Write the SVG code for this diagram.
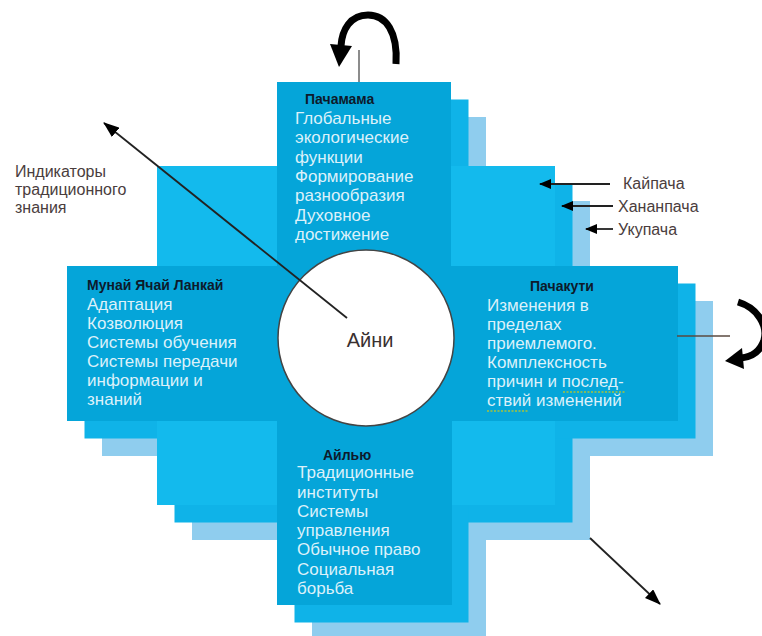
<svg xmlns="http://www.w3.org/2000/svg" width="762" height="636" viewBox="0 0 762 636">
<defs>
<style>
.lt{fill:#8fcdee}
.md{fill:#0fb3e8}
.br{fill:#13baed}
.fr{fill:#05a5d9}
.ttl{font-family:"Liberation Sans",Arial,sans-serif;font-weight:bold;font-size:14px;fill:#0d1a2b}
.bd{font-family:"Liberation Sans",Arial,sans-serif;font-size:17px;fill:#dcf1fa}
.lb{font-family:"Liberation Sans",Arial,sans-serif;font-size:16px;fill:#4a3d3d}
.ln{stroke:#222;stroke-width:1.8;fill:none}
.big{stroke:#000;stroke-width:7;fill:none;stroke-linecap:butt}
</style>
<marker id="ah" viewBox="0 0 12 10" refX="11" refY="5" markerWidth="12" markerHeight="10" markerUnits="userSpaceOnUse" orient="auto">
<path d="M0,0 L12,5 L0,10 Z" fill="#000"/>
</marker>
<marker id="ah2" viewBox="0 0 16 12" refX="15" refY="6" markerWidth="16" markerHeight="12" markerUnits="userSpaceOnUse" orient="auto">
<path d="M0,0 L16,6 L0,12 Z" fill="#000"/>
</marker>
</defs>
<rect width="762" height="636" fill="#fff"/>

<g id="layer-ukupacha">
<rect class="lt" x="192" y="201" width="398" height="339"/>
<rect class="lt" x="312" y="117" width="174" height="523"/>
<rect class="lt" x="102" y="301" width="611" height="155"/>
</g>
<g id="layer-hananpacha">
<rect class="md" x="174.5" y="183.5" width="398" height="339"/>
<rect class="md" x="294.5" y="99.5" width="174" height="523"/>
<rect class="md" x="84.5" y="283.5" width="611" height="155"/>
</g>
<g id="layer-kaypacha">
<rect class="br" x="157" y="166" width="398" height="339"/>
</g>

<g id="node-pachamama">
<rect class="fr" x="277" y="82" width="174" height="184"/>
<text class="ttl" x="305" y="104">Пачамама</text>
<text class="bd" x="295" y="124">Глобальные</text>
<text class="bd" x="295" y="143.3">экологические</text>
<text class="bd" x="295" y="162.6">функции</text>
<text class="bd" x="295" y="181.9">Формирование</text>
<text class="bd" x="295" y="201.2">разнообразия</text>
<text class="bd" x="295" y="220.5">Духовное</text>
<text class="bd" x="295" y="239.8">достижение</text>
</g>
<g id="node-munay">
<rect class="fr" x="67" y="266" width="210" height="155"/>
<text class="ttl" x="87" y="290">Мунай Ячай Ланкай</text>
<text class="bd" x="87" y="310">Адаптация</text>
<text class="bd" x="87" y="329">Козволюция</text>
<text class="bd" x="87" y="348">Системы обучения</text>
<text class="bd" x="87" y="367">Системы передачи</text>
<text class="bd" x="87" y="386">информации и</text>
<text class="bd" x="87" y="405">знаний</text>
</g>
<g id="node-center-fill">
<rect class="fr" x="277" y="266" width="174" height="155"/>
</g>
<g id="node-pachakuti">
<rect class="fr" x="451" y="266" width="227" height="155"/>
<text class="ttl" x="530" y="291">Пачакути</text>
<text class="bd" x="487" y="311">Изменения в</text>
<text class="bd" x="487" y="330">пределах</text>
<text class="bd" x="487" y="349">приемлемого.</text>
<text class="bd" x="487" y="368">Комплексность</text>
<text class="bd" x="487" y="387">причин и послед-</text>
<text class="bd" x="487" y="406">ствий изменений</text>
<path d="M563 392 H625 M487 411 H528" stroke="#a9c23a" stroke-width="1.3" stroke-dasharray="2 1.5" fill="none"/>
</g>
<g id="node-aylu">
<rect class="fr" x="277" y="421" width="175" height="184"/>
<text class="ttl" x="323" y="460">Айлью</text>
<text class="bd" x="297" y="478">Традиционные</text>
<text class="bd" x="297" y="497.5">институты</text>
<text class="bd" x="297" y="517">Системы</text>
<text class="bd" x="297" y="536">управления</text>
<text class="bd" x="297" y="555">Обычное право</text>
<text class="bd" x="297" y="574.5">Социальная</text>
<text class="bd" x="297" y="594">борьба</text>
</g>
<g id="node-ayni">
<circle cx="366" cy="338" r="88" fill="#fff" stroke="#444" stroke-width="1.5"/>
<text x="370" y="347" text-anchor="middle" font-family="Liberation Sans, Arial, sans-serif" font-size="20" fill="#3a3030">Айни</text>
</g>

<g id="labels">
<text class="lb" x="15" y="177">Индикаторы</text>
<text class="lb" x="15" y="195">традиционного</text>
<text class="lb" x="15" y="213">знания</text>
<text class="lb" x="623" y="189">Кайпача</text>
<text class="lb" x="618" y="212">Хананпача</text>
<text class="lb" x="618" y="235">Укупача</text>
</g>

<g id="connectors">
<line class="ln" x1="347" y1="318" x2="104" y2="123" marker-end="url(#ah2)"/>
<line class="ln" x1="590" y1="538" x2="660" y2="604" stroke="#333" marker-end="url(#ah2)"/>
<line class="ln" x1="610" y1="184" x2="540" y2="184" stroke-width="2" marker-end="url(#ah)"/>
<line class="ln" x1="613" y1="206" x2="562" y2="206" stroke-width="2" marker-end="url(#ah)"/>
<line class="ln" x1="613" y1="229" x2="586" y2="229" stroke-width="2" marker-end="url(#ah)"/>
<line x1="359" y1="50" x2="359" y2="82" stroke="#666" stroke-width="1.5"/>
<line x1="677" y1="336" x2="730" y2="336" stroke="#5a4a40" stroke-width="1.5"/>
<path class="big" d="M396 64 C398 32 386 15 368 15 C350 15 342 30 341 46"/>
<polygon points="330,44 352,46 339,67" fill="#000"/>
<path class="big" d="M738 302 C758 308 768 326 764 340 C760 352 751 357 741 358"/>
<polygon points="742,348 744,369 725,361" fill="#000"/>
</g>
</svg>
